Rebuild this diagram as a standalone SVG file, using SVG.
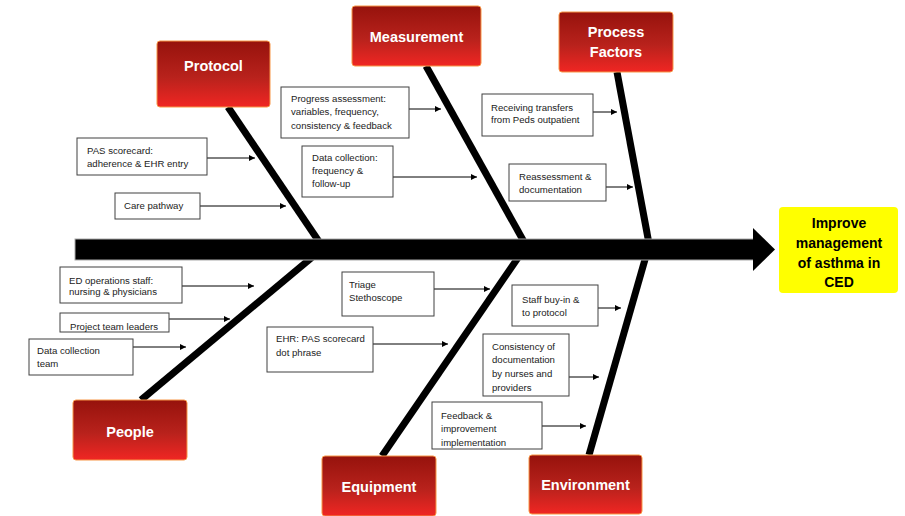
<svg xmlns="http://www.w3.org/2000/svg" width="905" height="516" viewBox="0 0 905 516">
<defs>
<linearGradient id="red" x1="0" y1="0" x2="0" y2="1">
<stop offset="0" stop-color="#96120c"/>
<stop offset="0.55" stop-color="#b8221c"/>
<stop offset="1" stop-color="#f02623"/>
</linearGradient>
<marker id="ah" viewBox="0 0 10 10" refX="10" refY="5" markerWidth="7" markerHeight="6" markerUnits="userSpaceOnUse" orient="auto">
<path d="M0,0 L10,5 L0,10 z" fill="#000"/>
</marker>
<style>
.cat rect{fill:url(#red);stroke:#f79646;stroke-width:1}
.cat text{font-family:"Liberation Sans",Arial,sans-serif;font-weight:bold;font-size:14.5px;fill:#fff;text-anchor:middle}
.lbl rect{fill:#fff;stroke:#404040;stroke-width:1}
.lbl text{font-family:"Liberation Sans",Arial,sans-serif;font-size:9.6px;fill:#222}
.rib{stroke:#000;stroke-width:7;fill:none}
.arr{stroke:#000;stroke-width:1;fill:none;marker-end:url(#ah)}
.goal text{font-family:"Liberation Sans",Arial,sans-serif;font-weight:bold;font-size:14px;fill:#000;text-anchor:middle}
</style>
</defs>
<rect width="905" height="516" fill="#fff"/>
<g id="connectors">
<line class="rib" x1="228" y1="107" x2="324" y2="249"/>
<line class="rib" x1="426" y1="66" x2="528" y2="249"/>
<line class="rib" x1="617" y1="72" x2="650" y2="249"/>
<line class="rib" x1="322" y1="249" x2="141" y2="400"/>
<line class="rib" x1="524" y1="249" x2="382" y2="456"/>
<line class="rib" x1="648" y1="249" x2="589" y2="455"/>
<rect x="75" y="239" width="680" height="21" fill="#000" stroke="#aaa" stroke-width="1"/>
<polygon points="753,228 775,249.5 753,271" fill="#000"/>
<line class="arr" x1="207" y1="158" x2="255" y2="158"/>
<line class="arr" x1="200" y1="206" x2="286" y2="206"/>
<line class="arr" x1="409" y1="109" x2="441" y2="109"/>
<line class="arr" x1="393" y1="177" x2="477" y2="177"/>
<line class="arr" x1="593" y1="112" x2="617" y2="112"/>
<line class="arr" x1="606" y1="187" x2="633" y2="187"/>
<line class="arr" x1="182" y1="286" x2="254" y2="286"/>
<line class="arr" x1="169" y1="319" x2="230" y2="319"/>
<line class="arr" x1="133" y1="347" x2="186" y2="347"/>
<line class="arr" x1="434" y1="289" x2="490" y2="289"/>
<line class="arr" x1="373" y1="344" x2="448" y2="344"/>
<line class="arr" x1="598" y1="308" x2="621" y2="308"/>
<line class="arr" x1="569" y1="377" x2="599" y2="377"/>
<line class="arr" x1="542" y1="426" x2="586" y2="426"/>
</g>
<g id="protocol" class="cat"><rect x="157" y="41" width="113" height="66" rx="3"/><text x="213.5" y="71">Protocol</text></g>
<g id="measurement" class="cat"><rect x="352" y="6" width="129" height="60" rx="3"/><text x="416.5" y="42">Measurement</text></g>
<g id="process-factors" class="cat"><rect x="559" y="12" width="114" height="60" rx="3"/><text x="616" y="37">Process</text><text x="616" y="57">Factors</text></g>
<g id="people" class="cat"><rect x="73" y="400" width="114" height="60" rx="3"/><text x="130" y="437">People</text></g>
<g id="equipment" class="cat"><rect x="322" y="456" width="114" height="60" rx="3"/><text x="379" y="492">Equipment</text></g>
<g id="environment" class="cat"><rect x="529" y="455" width="113" height="59" rx="3"/><text x="585.5" y="490">Environment</text></g>
<g id="goal" class="goal"><rect x="779" y="207" width="119" height="86" rx="4" fill="#ffff00"/><text x="839" y="228">Improve</text><text x="839" y="248">management</text><text x="839" y="268">of asthma in</text><text x="839" y="287">CED</text></g>
<g id="pas-scorecard" class="lbl"><rect x="77" y="138" width="130" height="37"/><text x="87" y="154">PAS scorecard:</text><text x="87" y="167">adherence &amp; EHR entry</text></g>
<g id="care-pathway" class="lbl"><rect x="115" y="193" width="85" height="26"/><text x="124" y="209">Care pathway</text></g>
<g id="progress-assessment" class="lbl"><rect x="281" y="87" width="128" height="51"/><text x="291" y="101.5">Progress assessment:</text><text x="291" y="115">variables, frequency,</text><text x="291" y="128.5">consistency &amp; feedback</text></g>
<g id="data-collection" class="lbl"><rect x="302" y="146" width="91" height="51"/><text x="312" y="160.5">Data collection:</text><text x="312" y="174">frequency &amp;</text><text x="312" y="187">follow-up</text></g>
<g id="receiving-transfers" class="lbl"><rect x="482" y="94" width="111" height="42"/><text x="491" y="110.5">Receiving transfers</text><text x="491" y="123">from Peds outpatient</text></g>
<g id="reassessment" class="lbl"><rect x="509" y="164" width="97" height="37"/><text x="519" y="179.5">Reassessment &amp;</text><text x="519" y="192.5">documentation</text></g>
<g id="ed-staff" class="lbl"><rect x="60" y="267" width="122" height="36"/><text x="69" y="283.5">ED operations staff:</text><text x="69" y="294.5">nursing &amp; physicians</text></g>
<g id="project-team" class="lbl"><rect x="60" y="313" width="109" height="19"/><text x="70" y="329.5">Project team leaders</text></g>
<g id="data-team" class="lbl"><rect x="29" y="339" width="104" height="36"/><text x="37" y="353.5">Data collection</text><text x="37" y="366.5">team</text></g>
<g id="triage" class="lbl"><rect x="342" y="272" width="92" height="44"/><text x="349" y="287.5">Triage</text><text x="349" y="300.5">Stethoscope</text></g>
<g id="ehr" class="lbl"><rect x="267" y="327" width="106" height="45"/><text x="276" y="341.5">EHR: PAS scorecard</text><text x="276" y="355.5">dot phrase</text></g>
<g id="staff-buy-in" class="lbl"><rect x="512" y="285" width="86" height="41"/><text x="522" y="302.5">Staff buy-in &amp;</text><text x="522" y="315.5">to protocol</text></g>
<g id="consistency" class="lbl"><rect x="483" y="334" width="86" height="62"/><text x="492" y="349.5">Consistency of</text><text x="492" y="362.5">documentation</text><text x="492" y="376.5">by nurses and</text><text x="492" y="390.5">providers</text></g>
<g id="feedback" class="lbl"><rect x="432" y="402" width="110" height="47"/><text x="441" y="418.5">Feedback &amp;</text><text x="441" y="431.5">improvement</text><text x="441" y="445.5">implementation</text></g>
</svg>
